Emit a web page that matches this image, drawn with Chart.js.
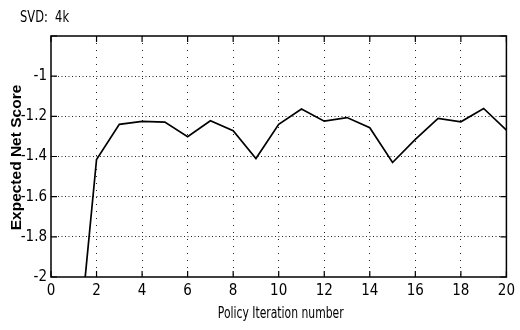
<!DOCTYPE html>
<html>
<head>
<meta charset="utf-8">
<script src="https://cdn.jsdelivr.net/npm/chart.js@4"></script>
<style>
  html, body { margin: 0; padding: 0; background: #fff; }
  #wrap { width: 520px; height: 330px; }
</style>
</head>
<body>
<div id="wrap"><canvas id="chart" width="520" height="330"></canvas></div>
<script>
// policy iteration results
var iterations = [1, 2, 3, 4, 5, 6, 7, 8, 9, 10, 11, 12, 13, 14, 15, 16, 17, 18, 19, 20];
var netScore = [-2.59, -1.415, -1.24, -1.225, -1.229, -1.302, -1.222, -1.272, -1.41, -1.24,
                -1.164, -1.224, -1.206, -1.257, -1.43, -1.315, -1.21, -1.227, -1.161, -1.269];
var xTicks = [0, 2, 4, 6, 8, 10, 12, 14, 16, 18, 20];
var yTicks = [-2, -1.8, -1.6, -1.4, -1.2, -1];

var narrow = '"DejaVu Sans Condensed", "Liberation Sans", sans-serif';

// squeezed text, helvetica-narrow look
function narrowText(ctx, text, x, y, squeeze) {
  ctx.save();
  ctx.translate(x, y);
  ctx.scale(squeeze, 1);
  ctx.fillText(text, 0, 0);
  ctx.restore();
}

// frame, inward tick marks and text drawn on top
var framePlugin = {
  id: 'frame',
  afterDraw: function(chart) {
    var ctx = chart.ctx;
    var a = chart.chartArea;
    var xs = chart.scales.x, ys = chart.scales.y;
    ctx.save();
    ctx.strokeStyle = '#000';
    ctx.lineWidth = 1.5;
    ctx.strokeRect(a.left, a.top, a.right - a.left, a.bottom - a.top);
    ctx.lineWidth = 1.2;
    ctx.beginPath();
    xTicks.forEach(function(v) {
      var px = xs.getPixelForValue(v);
      ctx.moveTo(px, a.bottom); ctx.lineTo(px, a.bottom - 6);
      ctx.moveTo(px, a.top); ctx.lineTo(px, a.top + 6);
    });
    yTicks.concat([-0.8]).forEach(function(v) {
      var py = ys.getPixelForValue(v);
      ctx.moveTo(a.left, py); ctx.lineTo(a.left + 6, py);
      ctx.moveTo(a.right, py); ctx.lineTo(a.right - 6, py);
    });
    ctx.stroke();

    ctx.fillStyle = '#000';
    ctx.font = '15px ' + narrow;
    ctx.textAlign = 'left';
    ctx.textBaseline = 'alphabetic';
    narrowText(ctx, 'SVD:  4k', 20, 22, 0.85);

    ctx.textAlign = 'center';
    narrowText(ctx, 'Policy Iteration number', (a.left + a.right) / 2 + 2, 318, 0.8);

    ctx.translate(17, (a.top + a.bottom) / 2 + 1);
    ctx.rotate(-Math.PI / 2);
    ctx.font = 'bold 15.5px "Liberation Sans", Arial, sans-serif';
    ctx.textBaseline = 'middle';
    ctx.fillText('Expected Net Score', 0, 0);
    ctx.restore();
  }
};

function innerGrid(dashColor, edgeValues) {
  return function(c) {
    var v = c.tick ? c.tick.value : null;
    return edgeValues.indexOf(v) >= 0 ? 'rgba(0,0,0,0)' : dashColor;
  };
}

new Chart(document.getElementById('chart'), {
  type: 'line',
  data: {
    labels: iterations,
    datasets: [{
      data: iterations.map(function(x, i) { return { x: x, y: netScore[i] }; }),
      borderColor: '#000',
      borderWidth: 1.7,
      pointRadius: 0,
      tension: 0,
      fill: false
    }]
  },
  options: {
    responsive: false,
    animation: false,
    layout: { padding: { left: 0, right: 10, top: 36, bottom: 0 } },
    plugins: {
      legend: { display: false },
      tooltip: { enabled: false },
      title: { display: false }
    },
    scales: {
      x: {
        type: 'linear',
        min: 0,
        max: 20,
        afterFit: function(s) { s.height = 53; },
        afterBuildTicks: function(s) { s.ticks = xTicks.map(function(v) { return { value: v }; }); },
        ticks: {
          color: '#000',
          padding: 5,
          maxRotation: 0,
          font: { family: narrow, size: 15 }
        },
        border: { display: false, dash: [1, 6] },
        grid: {
          drawTicks: false,
          color: innerGrid('#222', [0, 20]),
          lineWidth: 1
        }
      },
      y: {
        min: -2,
        max: -0.8,
        afterFit: function(s) { s.width = 51; },
        afterBuildTicks: function(s) { s.ticks = yTicks.concat([-0.8]).map(function(v) { return { value: v }; }); },
        ticks: {
          color: '#000',
          padding: 4,
          font: { family: narrow, size: 15 },
          callback: function(v) { return v > -0.9 ? '' : String(Math.round(v * 10) / 10); }
        },
        border: { display: false, dash: [1, 2.5] },
        grid: {
          drawTicks: false,
          color: innerGrid('#222', [-2, -0.8]),
          lineWidth: 1
        }
      }
    }
  },
  plugins: [framePlugin]
});
</script>
</body>
</html>
